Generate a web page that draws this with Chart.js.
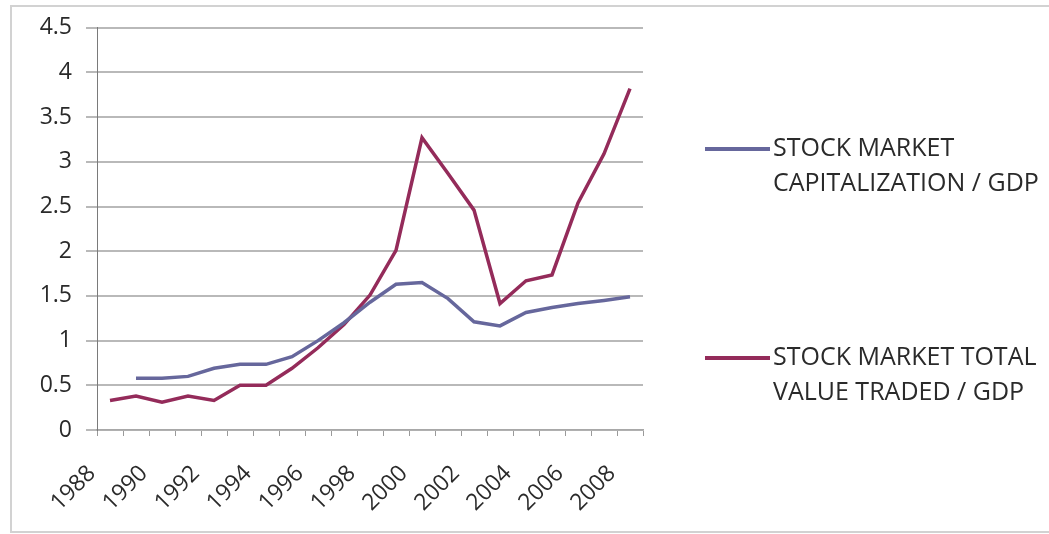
<!DOCTYPE html>
<html>
<head>
<meta charset="utf-8">
<script src="https://cdn.jsdelivr.net/npm/chart.js@4.4.1/dist/chart.umd.min.js"></script>
<style>
  html, body { margin: 0; padding: 0; background: #ffffff; }
  #frame { position: absolute; left: 10px; top: 5px; width: 1100px; height: 528px;
           border: 2px solid #d2d2d2; box-sizing: border-box; }
  #wrap { position: absolute; left: 0; top: 0; width: 1049px; height: 534px; }
</style>
</head>
<body>
<div id="frame"></div>
<div id="wrap"><canvas id="chart"></canvas></div>
<script>
// Years on the category axis
const years = ['1988','1989','1990','1991','1992','1993','1994','1995','1996','1997','1998',
               '1999','2000','2001','2002','2003','2004','2005','2006','2007','2008'];
// Years that carry a visible label
const labelledYears = ['1988','1990','1992','1994','1996','1998','2000','2002','2004','2006','2008'];
// Stock market capitalization / GDP (no figure for 1988)
const capitalization = [null, 0.58, 0.58, 0.60, 0.69, 0.735, 0.735, 0.82, 1.00, 1.20, 1.43,
                        1.63, 1.65, 1.47, 1.21, 1.165, 1.315, 1.37, 1.415, 1.45, 1.49];
// Stock market total value traded / GDP
const valueTraded = [0.33, 0.38, 0.31, 0.38, 0.33, 0.50, 0.50, 0.69, 0.92, 1.18, 1.51,
                     2.01, 3.27, 2.87, 2.46, 1.415, 1.67, 1.735, 2.54, 3.09, 3.82];
// Value axis ticks
const yTicks = [0, 0.5, 1, 1.5, 2, 2.5, 3, 3.5, 4, 4.5];
// Legend text, one entry per series, split into its two lines
const seriesNames = [
  ['STOCK MARKET', 'CAPITALIZATION / GDP'],
  ['STOCK MARKET TOTAL', 'VALUE TRADED / GDP']
];

const FONT = "'Open Sans', 'DejaVu Sans', sans-serif";
const TEXT = '#2a2a2a';

// Legend on the right: a line sample and two lines of text per series
const sideLegend = {
  id: 'sideLegend',
  afterDraw(chart) {
    const ctx = chart.ctx;
    const rows = [149, 358];
    ctx.save();
    chart.data.datasets.forEach((ds, i) => {
      const y = rows[i];
      ctx.strokeStyle = ds.borderColor;
      ctx.lineWidth = 4;
      ctx.lineCap = 'butt';
      ctx.beginPath();
      ctx.moveTo(705, y);
      ctx.lineTo(770, y);
      ctx.stroke();
      ctx.fillStyle = TEXT;
      ctx.font = "25px " + FONT;
      ctx.textAlign = 'left';
      ctx.textBaseline = 'middle';
      seriesNames[i].forEach((line, j) => {
        ctx.fillText(line, 773, y + j * 35);
      });
    });
    ctx.restore();
  }
};

new Chart(document.getElementById('chart'), {
  type: 'line',
  data: {
    labels: years,
    datasets: [
      {
        label: seriesNames[0].join(' '),
        data: capitalization,
        borderColor: '#66679c',
        borderWidth: 3.5,
        pointRadius: 0,
        tension: 0,
        spanGaps: false
      },
      {
        label: seriesNames[1].join(' '),
        data: valueTraded,
        borderColor: '#942b5a',
        borderWidth: 3.5,
        pointRadius: 0,
        tension: 0
      }
    ]
  },
  options: {
    responsive: true,
    maintainAspectRatio: false,
    animation: false,
    layout: { padding: { left: 0, right: 406, top: 22, bottom: 0 } },
    plugins: {
      legend: { display: false },
      tooltip: { enabled: false }
    },
    scales: {
      x: {
        type: 'category',
        offset: true,
        afterFit(scale) { scale.height = 104; },
        grid: {
          offset: true,
          drawOnChartArea: false,
          drawTicks: true,
          tickLength: 6,
          color: '#9a9a9a',
          lineWidth: 1
        },
        border: { display: true, color: '#a8a8a8', width: 1.5 },
        ticks: {
          autoSkip: false,
          minRotation: 45,
          maxRotation: 45,
          padding: 24,
          labelOffset: -18,
          color: TEXT,
          font: { family: FONT, size: 23 },
          callback(value) {
            const y = this.getLabelForValue(value);
            return labelledYears.includes(y) ? y : '';
          }
        }
      },
      y: {
        min: 0,
        max: 4.5,
        afterFit(scale) { scale.width = 97; },
        afterBuildTicks(scale) { scale.ticks = yTicks.map(v => ({ value: v })); },
        grid: {
          color: '#b9b9b9',
          lineWidth: 2,
          drawTicks: true,
          tickLength: 11
        },
        border: { display: true, color: '#7a7a7a', width: 1 },
        ticks: {
          padding: 14,
          color: TEXT,
          font: { family: FONT, size: 23 },
          callback(value) { return String(value); }
        }
      }
    }
  },
  plugins: [sideLegend]
});
</script>
</body>
</html>
